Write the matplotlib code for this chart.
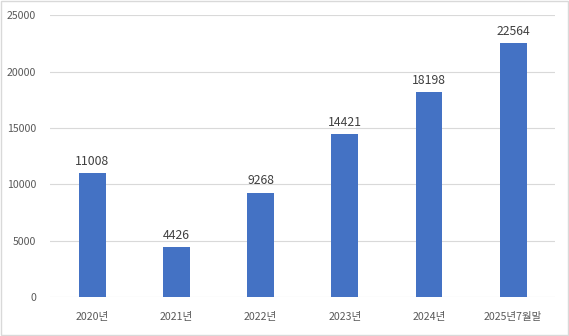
import matplotlib
matplotlib.use("Agg")
import matplotlib.pyplot as plt
from matplotlib.patches import Rectangle

plt.rcParams['font.family'] = ['Noto Sans CJK KR', 'DejaVu Sans']

categories = ['2020년', '2021년', '2022년', '2023년', '2024년', '2025년7월말']
values = [11008, 4426, 9268, 14421, 18198, 22564]
yticks = [0, 5000, 10000, 15000, 20000, 25000]

fig = plt.figure(figsize=(5.69, 3.36), dpi=100)
ax = fig.add_axes([0.088, 0.116, 0.888, 0.839])

x = range(len(categories))
bars = ax.bar(x, values, width=0.32, color='#4472C4', zorder=3)
for xi, v in zip(x, values):
    ax.text(xi, v + 450, str(v), ha='center', va='bottom', fontsize=8.8, color='#404040')

ax.set_xlim(-0.5, len(categories) - 0.5)
ax.set_ylim(0, 25000)
ax.set_yticks(yticks)
ax.set_yticklabels([str(t) for t in yticks])
ax.set_xticks(list(x))
ax.set_xticklabels(categories)
ax.tick_params(axis='both', length=0, labelsize=7.6, colors='#595959')
ax.tick_params(axis='x', pad=11)
ax.tick_params(axis='y', pad=10)
ax.grid(axis='y', color='#D9D9D9', linewidth=0.8, zorder=0)
for s in ax.spines.values():
    s.set_visible(False)

fig.patches.append(Rectangle((0.002, 0.003), 0.996, 0.994, transform=fig.transFigure,
                             fill=False, edgecolor='#D9D9D9', linewidth=1))

fig.savefig('out.png', dpi=100)
